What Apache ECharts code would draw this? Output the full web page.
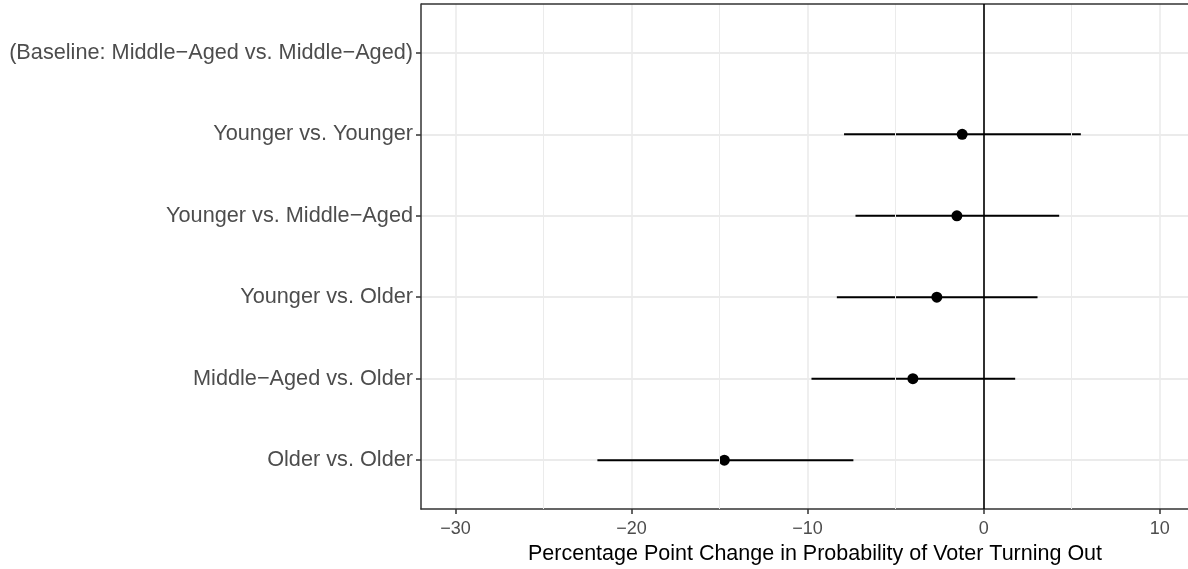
<!DOCTYPE html>
<html>
<head>
<meta charset="utf-8">
<script src="https://cdn.jsdelivr.net/npm/echarts@6/dist/echarts.min.js"></script>
<style>
  html, body { margin: 0; padding: 0; background: #fff; overflow: hidden; }
  #chart { width: 1188px; height: 569px; }
</style>
</head>
<body>
<div id="chart"></div>
<script>
// categories, top to bottom
var categories = [
  '(Baseline: Middle\u2212Aged vs. Middle\u2212Aged)',
  'Younger vs. Younger',
  'Younger vs. Middle\u2212Aged',
  'Younger vs. Older',
  'Middle\u2212Aged vs. Older',
  'Older vs. Older'
]
// estimate and interval per row (null = baseline, no mark)
var estimate = [null, -1.22, -1.52, -2.66, -4.02, -14.73]
var lower = [null, -7.93, -7.28, -8.34, -9.78, -21.94]
var upper = [null, 5.52, 4.29, 3.06, 1.79, -7.40]
var xTicks = [-30, -20, -10, 0, 10]
var xMinorTicks = [-25, -15, -5, 5]

var FONT = '"Liberation Sans", Arial, sans-serif'

var intervalData = []
var pointData = []
for (var i = 0; i < categories.length; i++) {
  if (estimate[i] === null) continue
  intervalData.push([lower[i], upper[i], i])
  pointData.push([estimate[i], i])
}

var chart = echarts.init(document.getElementById('chart'))
chart.setOption({
  animation: false,
  // panel runs a little past the right edge, as in the source image
  grid: {
    left: 421,
    right: -21,
    top: 4,
    bottom: 60,
    outerBoundsMode: 'none'
  },
  xAxis: {
    type: 'value',
    min: -31.96,
    max: 12.8,
    name: 'Percentage Point Change in Probability of Voter Turning Out',
    nameLocation: 'middle',
    nameGap: 34,
    nameTextStyle: { color: '#000', fontSize: 21.5, fontFamily: FONT },
    axisLine: { show: true, onZero: false, lineStyle: { color: '#333', width: 1.5 } },
    axisTick: { show: true, length: 5, customValues: xTicks, lineStyle: { color: '#333', width: 1.5 } },
    axisLabel: {
      customValues: xTicks,
      color: '#4D4D4D',
      fontSize: 18,
      fontFamily: FONT,
      margin: 11,
      formatter: function(v) { return String(v).replace('-', '\u2212') }
    },
    splitLine: { show: true, lineStyle: { color: '#EBEBEB', width: 1.6 } }
  },
  yAxis: {
    type: 'value',
    inverse: true,
    min: -0.6,
    max: 5.6,
    axisLine: { show: true, onZero: false, lineStyle: { color: '#333', width: 1.5 } },
    axisTick: { show: true, length: 5, customValues: [0, 1, 2, 3, 4, 5], lineStyle: { color: '#333', width: 1.5 } },
    axisLabel: {
      customValues: [0, 1, 2, 3, 4, 5],
      color: '#4D4D4D',
      fontSize: 21.7,
      fontFamily: FONT,
      margin: 8,
      formatter: function(v) { return categories[Math.round(v)] }
    },
    splitLine: { show: true, lineStyle: { color: '#EBEBEB', width: 2 } }
  },
  series: [
    {
      // minor grid and top border
      type: 'line',
      data: [],
      silent: true,
      z: 0,
      markLine: {
        silent: true,
        symbol: 'none',
        label: { show: false },
        data: xMinorTicks.map(function(v) {
          return { xAxis: v, lineStyle: { color: '#EBEBEB', width: 1, type: 'solid' } }
        }).concat([
          { yAxis: -0.6, lineStyle: { color: '#333', width: 1.5, type: 'solid' } }
        ])
      }
    },
    {
      // zero reference line
      type: 'line',
      data: [],
      silent: true,
      z: 2,
      markLine: {
        silent: true,
        symbol: 'none',
        label: { show: false },
        data: [{ xAxis: 0, lineStyle: { color: '#000', width: 1.6, type: 'solid' } }]
      }
    },
    {
      type: 'custom',
      data: intervalData,
      encode: { x: [0, 1], y: 2 },
      renderItem: function(params, api) {
        var a = api.coord([api.value(0), api.value(2)])
        var b = api.coord([api.value(1), api.value(2)])
        return {
          type: 'line',
          shape: { x1: a[0], y1: a[1], x2: b[0], y2: b[1] },
          style: { stroke: '#000', lineWidth: 2 }
        }
      },
      z: 3
    },
    {
      type: 'scatter',
      data: pointData,
      symbol: 'circle',
      symbolSize: 11,
      itemStyle: { color: '#000', opacity: 1 },
      z: 4
    }
  ]
})
</script>
</body>
</html>
